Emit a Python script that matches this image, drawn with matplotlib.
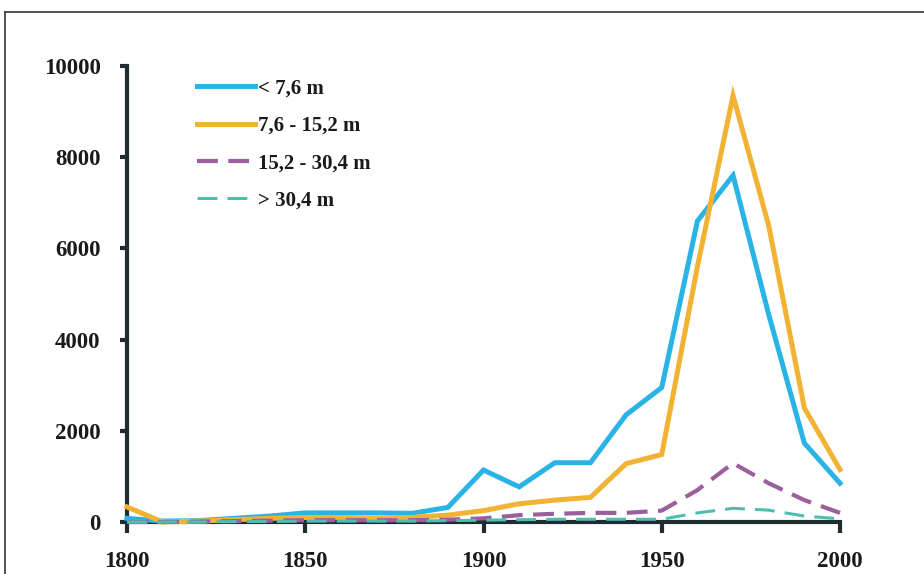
import matplotlib
matplotlib.use('Agg')
import matplotlib.pyplot as plt
from matplotlib.lines import Line2D
import numpy as np

# data (one point per decade)
years = list(range(1800, 2001, 10))
under_7_6 = [80, 20, 30, 80, 130, 200, 200, 200, 190, 320, 1140, 770, 1300, 1300,
             2350, 2950, 6600, 7600, 4550, 1730, 850]
from_7_6 = [330, 0, 20, 50, 80, 100, 100, 80, 100, 150, 250, 400, 480, 540,
            1280, 1480, 5600, 9350, 6500, 2500, 1150]
from_15_2 = [0, 0, 10, 20, 30, 40, 40, 40, 40, 50, 80, 150, 180, 200,
             200, 250, 700, 1290, 850, 480, 200]
over_30_4 = [0, 0, 0, 10, 10, 20, 20, 20, 20, 30, 40, 50, 60, 60,
             60, 60, 200, 300, 260, 130, 70]
labels = ['< 7,6 m', '7,6 - 15,2 m', '15,2 - 30,4 m', '> 30,4 m']
xticks = [1800, 1850, 1900, 1950, 2000]
yticks = [0, 2000, 4000, 6000, 8000, 10000]

plt.rcParams['font.family'] = ['Liberation Serif', 'DejaVu Serif']
plt.rcParams['font.weight'] = 'bold'

W, H = 924, 574
fig = plt.figure(figsize=(W/100., H/100.), dpi=100)
fig.patch.set_facecolor('white')

ax = fig.add_axes([127./W, 1-522./H, (840-127.)/W, (522-66.)/H])
axis_col = '#1f2d33'

ax.plot(years, under_7_6, color='#2ab4e6', lw=3.6, label=labels[0],
        solid_joinstyle='miter', clip_on=False, zorder=3)
ax.plot(years, from_7_6, color='#f2b233', lw=3.6, label=labels[1],
        solid_joinstyle='miter', clip_on=False, zorder=3)
ax.plot(years, from_15_2, color='#9a5f9c', lw=3.0, label=labels[2],
        dashes=(5, 2.5), clip_on=False, zorder=3)
ax.plot(years, over_30_4, color='#4fbdb0', lw=2.2, label=labels[3],
        dashes=(6.5, 3.3), clip_on=False, zorder=3)

ax.set_xlim(1800, 2000)
ax.set_ylim(0, 10000)
ax.set_xticks(xticks)
ax.set_yticks(yticks)
for s in ['top', 'right']:
    ax.spines[s].set_visible(False)
for s in ['left', 'bottom']:
    ax.spines[s].set_linewidth(3)
    ax.spines[s].set_color(axis_col)
    ax.spines[s].set_zorder(2)
ax.tick_params(axis='y', direction='out', length=5, width=3, color=axis_col,
               pad=14, labelsize=16.5)
ax.tick_params(axis='x', direction='out', length=8, width=3, color=axis_col,
               pad=13, labelsize=16.5)
for t in ax.get_xticklabels() + ax.get_yticklabels():
    t.set_fontweight('bold')
    t.set_color('#1a1a1a')

leg = ax.legend(loc='upper left', bbox_to_anchor=(0.098, 0.972),
                frameon=False, fontsize=15, handlelength=2.8,
                handletextpad=0.15, labelspacing=0.83,
                borderpad=0, borderaxespad=0)
for t in leg.get_texts():
    t.set_fontweight('bold')
    t.set_color('#1a1a1a')

# frame around the picture (left and top edges only visible)
fig.add_artist(Line2D([5./W, 5./W], [0, 1-12./H], transform=fig.transFigure,
                      color='#333333', lw=1.2))
fig.add_artist(Line2D([5./W, 1], [1-12./H, 1-12./H], transform=fig.transFigure,
                      color='#333333', lw=1.2))

fig.savefig('out.png', dpi=100, facecolor='white')
